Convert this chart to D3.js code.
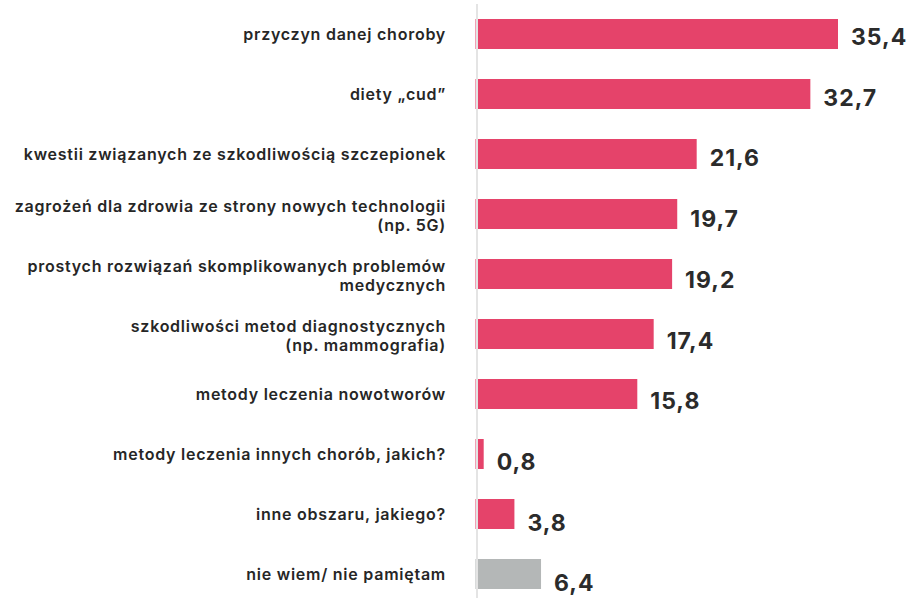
<!DOCTYPE html>
<html>
<head>
<meta charset="utf-8">
<script src="https://cdn.jsdelivr.net/npm/d3@7"></script>
<style>
  html, body { margin: 0; padding: 0; background: #ffffff; }
  svg { display: block; }
</style>
</head>
<body>
<svg id="chart" width="913" height="598"></svg>
<script>
const categories = [
  ["przyczyn danej choroby"],
  ["diety „cud”"],
  ["kwestii związanych ze szkodliwością szczepionek"],
  ["zagrożeń dla zdrowia ze strony nowych technologii", "(np. 5G)"],
  ["prostych rozwiązań skomplikowanych problemów", "medycznych"],
  ["szkodliwości metod diagnostycznych", "(np. mammografia)"],
  ["metody leczenia nowotworów"],
  ["metody leczenia innych chorób, jakich?"],
  ["inne obszaru, jakiego?"],
  ["nie wiem/ nie pamiętam"]
];
const values = [35.4, 32.7, 21.6, 19.7, 19.2, 17.4, 15.8, 0.8, 3.8, 6.4];
const valueLabels = ["35,4", "32,7", "21,6", "19,7", "19,2", "17,4", "15,8", "0,8", "3,8", "6,4"];
const barColors = ["#e5436a", "#e5436a", "#e5436a", "#e5436a", "#e5436a", "#e5436a", "#e5436a", "#e5436a", "#e5436a", "#b4b7b7"];

const svg = d3.select("#chart");
const idx = d3.range(values.length);

const x = d3.scaleLinear().domain([0, 35.4]).range([475.5, 838]);
const y = d3.scaleBand().domain(idx).range([4, 604]).paddingInner(0.5).paddingOuter(0.25);

// bars
svg.append("g").selectAll("rect")
  .data(idx).join("rect")
  .attr("x", x(0))
  .attr("y", i => y(i))
  .attr("width", i => x(values[i]) - x(0))
  .attr("height", y.bandwidth())
  .attr("fill", i => barColors[i]);

// axis line
svg.append("line")
  .attr("x1", 477).attr("x2", 477)
  .attr("y1", 4).attr("y2", 598)
  .attr("stroke", "#e4e4e4").attr("stroke-width", 2);

// category labels
const fontFam = "Inter, 'Noto Sans', 'DejaVu Sans', sans-serif";
const lab = svg.append("g").selectAll("text")
  .data(idx).join("text")
  .attr("text-anchor", "end")
  .attr("font-family", fontFam)
  .attr("font-weight", 600)
  .attr("font-size", 16)
  .attr("letter-spacing", 0.75)
  .attr("fill", "#262626");
lab.each(function(i) {
  const lines = categories[i];
  const n = lines.length;
  const c = y(i) + y.bandwidth() / 2;
  const t = d3.select(this);
  lines.forEach((ln, k) => {
    t.append("tspan")
      .attr("x", 446)
      .attr("y", c + 6 + (n - 1) * 1.5 + (k - (n - 1) / 2) * 19)
      .text(ln);
  });
});

// value labels
svg.append("g").selectAll("text")
  .data(idx).join("text")
  .attr("x", i => x(values[i]) + 13)
  .attr("y", i => y(i) + y.bandwidth() / 2 + 11 + i * 0.7)
  .attr("font-family", fontFam)
  .attr("font-weight", 700)
  .attr("font-size", 23)
  .attr("letter-spacing", 1)
  .attr("fill", "#2b2b2b")
  .text(i => valueLabels[i]);
</script>
</body>
</html>
